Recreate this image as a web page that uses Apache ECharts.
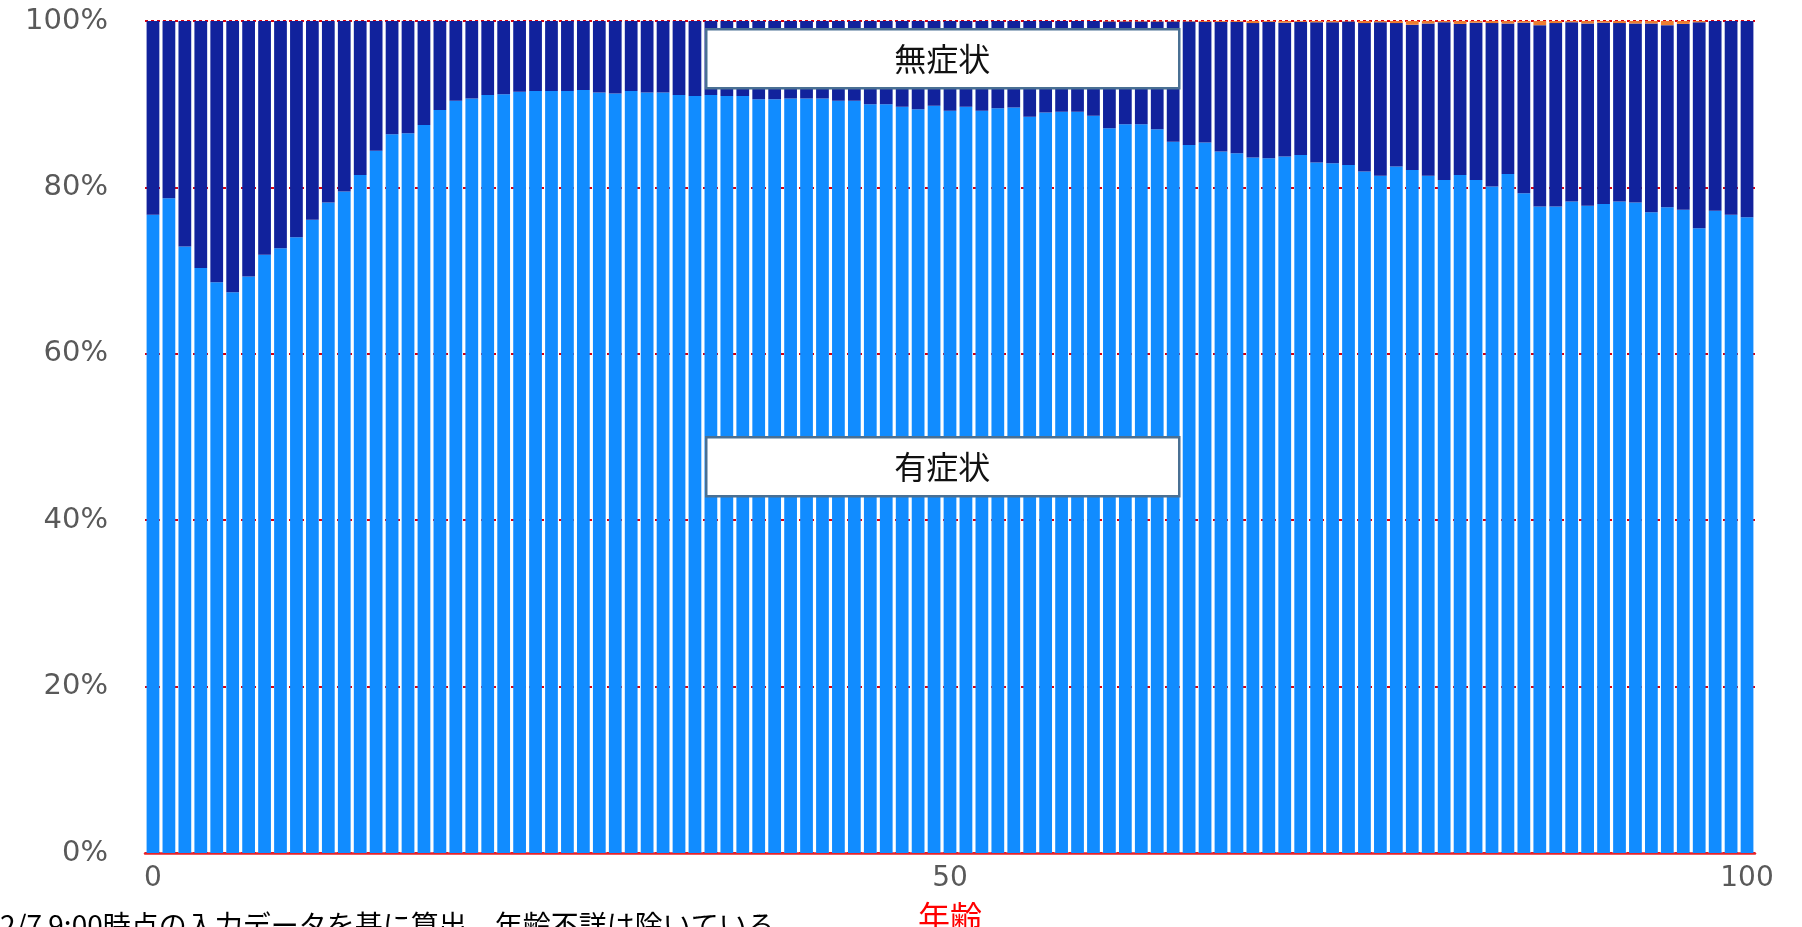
<!DOCTYPE html>
<html>
<head>
<meta charset="utf-8">
<script src="https://cdn.jsdelivr.net/npm/echarts/dist/echarts.min.js"></script>
<style>
  html, body { margin: 0; padding: 0; background: #fff; }
  #chart { width: 1802px; height: 927px; }
</style>
</head>
<body>
<div id="chart"></div>
<script>
// 年齢 0〜100
const ages = [];
for (let a = 0; a <= 100; a++) ages.push(String(a));

// 有症状 (%)
const symptomatic = [
  76.7, 78.7, 72.9, 70.3, 68.6, 67.4, 69.3, 71.9, 72.7, 74.0,
  76.1, 78.2, 79.5, 81.5, 84.4, 86.4, 86.5, 87.5, 89.3, 90.4,
  90.7, 91.1, 91.2, 91.5, 91.6, 91.6, 91.6, 91.7, 91.4, 91.3,
  91.6, 91.4, 91.4, 91.1, 91.0, 91.1, 91.0, 91.0, 90.6, 90.6,
  90.7, 90.7, 90.7, 90.4, 90.4, 90.0, 90.0, 89.7, 89.4, 89.8,
  89.2, 89.7, 89.2, 89.5, 89.6, 88.5, 89.0, 89.1, 89.1, 88.6,
  87.1, 87.6, 87.6, 87.0, 85.5, 85.1, 85.4, 84.3, 84.1, 83.6,
  83.5, 83.7, 83.9, 83.0, 82.9, 82.7, 81.9, 81.4, 82.5, 82.1,
  81.4, 80.9, 81.5, 80.9, 80.1, 81.6, 79.3, 77.7, 77.7, 78.3,
  77.8, 78.0, 78.3, 78.2, 77.0, 77.6, 77.3, 75.1, 77.2, 76.7,
  76.4
];

// 無症状 (%)
const asymptomatic = [
  23.3, 21.3, 27.1, 29.7, 31.4, 32.6, 30.7, 28.1, 27.3, 26.0,
  23.9, 21.8, 20.5, 18.5, 15.6, 13.6, 13.5, 12.5, 10.7, 9.6,
  9.3, 8.9, 8.8, 8.5, 8.4, 8.4, 8.4, 8.3, 8.6, 8.7,
  8.4, 8.6, 8.6, 8.9, 9.0, 8.9, 9.0, 9.0, 9.4, 9.4,
  9.3, 9.3, 9.3, 9.6, 9.6, 10.0, 10.0, 10.3, 10.6, 10.2,
  10.8, 10.3, 10.8, 10.5, 10.4, 11.5, 11.0, 10.9, 10.9, 11.4,
  12.85, 12.35, 12.35, 12.95, 14.45, 14.85, 14.5, 15.6, 15.8, 16.15,
  16.4, 16.1, 16.0, 16.85, 16.95, 17.25, 17.85, 18.45, 17.25, 17.45,
  18.3, 18.95, 18.15, 18.9, 19.65, 18.1, 20.5, 21.8, 22.05, 21.55,
  21.9, 21.8, 21.45, 21.5, 22.7, 21.9, 22.35, 24.75, 22.8, 23.3,
  23.6
];

// 不明 (%)
const unknown = [
  0, 0, 0, 0, 0, 0, 0, 0, 0, 0,
  0, 0, 0, 0, 0, 0, 0, 0, 0, 0,
  0, 0, 0, 0, 0, 0, 0, 0, 0, 0,
  0, 0, 0, 0, 0, 0, 0, 0, 0, 0,
  0, 0, 0, 0, 0, 0, 0, 0, 0, 0,
  0, 0, 0, 0, 0, 0, 0, 0, 0, 0,
  0.05, 0.05, 0.05, 0.05, 0.05, 0.05, 0.1, 0.1, 0.1, 0.25,
  0.1, 0.2, 0.1, 0.15, 0.15, 0.05, 0.25, 0.15, 0.25, 0.45,
  0.3, 0.15, 0.35, 0.2, 0.25, 0.3, 0.2, 0.5, 0.25, 0.15,
  0.3, 0.2, 0.25, 0.3, 0.3, 0.5, 0.35, 0.15, 0, 0,
  0
];

const note = '2/7 9:00時点の入力データを基に算出、年齢不詳は除いている';
const jpFont = '"Noto Sans CJK JP", sans-serif';
const numFont = '"DejaVu Sans", sans-serif';

function labelBox(x, y, text) {
  return {
    type: 'group',
    left: x,
    top: y,
    z: 100,
    children: [
      {
        type: 'rect',
        z: 100,
        shape: { x: 0, y: 0, width: 473, height: 59 },
        style: { fill: '#fff', stroke: '#4a7093', lineWidth: 2.5 },
      },
      {
        type: 'text',
        z: 101,
        x: 236,
        y: 30,
        style: {
          text: text,
          fill: '#111',
          fontSize: 32,
          fontFamily: jpFont,
          align: 'center',
          verticalAlign: 'middle',
          textAlign: 'center',
          textVerticalAlign: 'middle',
        },
      },
    ],
  };
}

const options = {
  animation: false,
  grid: {
    left: 145,
    right: 47,
    top: 21,
    bottom: 74,
    outerBoundsMode: 'none',
  },
  xAxis: {
    type: 'category',
    data: ages,
    name: '年齢',
    nameLocation: 'middle',
    nameGap: 48,
    nameTextStyle: { color: '#ff0000', fontSize: 32, fontFamily: jpFont },
    axisLine: { lineStyle: { color: '#e8232a', width: 2.5 } },
    axisTick: { show: false },
    axisLabel: {
      interval: 49,
      margin: 12,
      color: '#595959',
      fontSize: 28,
      fontFamily: numFont,
    },
  },
  yAxis: {
    type: 'value',
    min: 0,
    max: 100,
    interval: 20,
    axisLine: { show: false },
    axisTick: { show: false },
    axisLabel: {
      formatter: '{value}%',
      margin: 37,
      color: '#595959',
      fontSize: 29,
      fontFamily: numFont,
    },
    splitLine: {
      lineStyle: { color: '#d9000f', type: [3, 3], width: 2 },
    },
  },
  series: [
    {
      name: '有症状',
      type: 'bar',
      stack: 'total',
      data: symptomatic,
      barCategoryGap: '20%',
      itemStyle: { color: '#118cff' },
    },
    {
      name: '無症状',
      type: 'bar',
      stack: 'total',
      data: asymptomatic,
      barCategoryGap: '20%',
      itemStyle: { color: '#11229c' },
    },
    {
      name: '不明',
      type: 'bar',
      stack: 'total',
      data: unknown,
      barCategoryGap: '20%',
      itemStyle: { color: '#ed7d31' },
    },
  ],
  graphic: [
    labelBox(705, 28, '無症状'),
    labelBox(705, 436, '有症状'),
    {
      type: 'text',
      left: 0,
      top: 911,
      style: {
        text: note,
        fill: '#000',
        fontSize: 28,
        fontFamily: jpFont,
      },
    },
  ],
};

const myChart = echarts.init(document.getElementById('chart'));
myChart.setOption(options);
</script>
</body>
</html>
